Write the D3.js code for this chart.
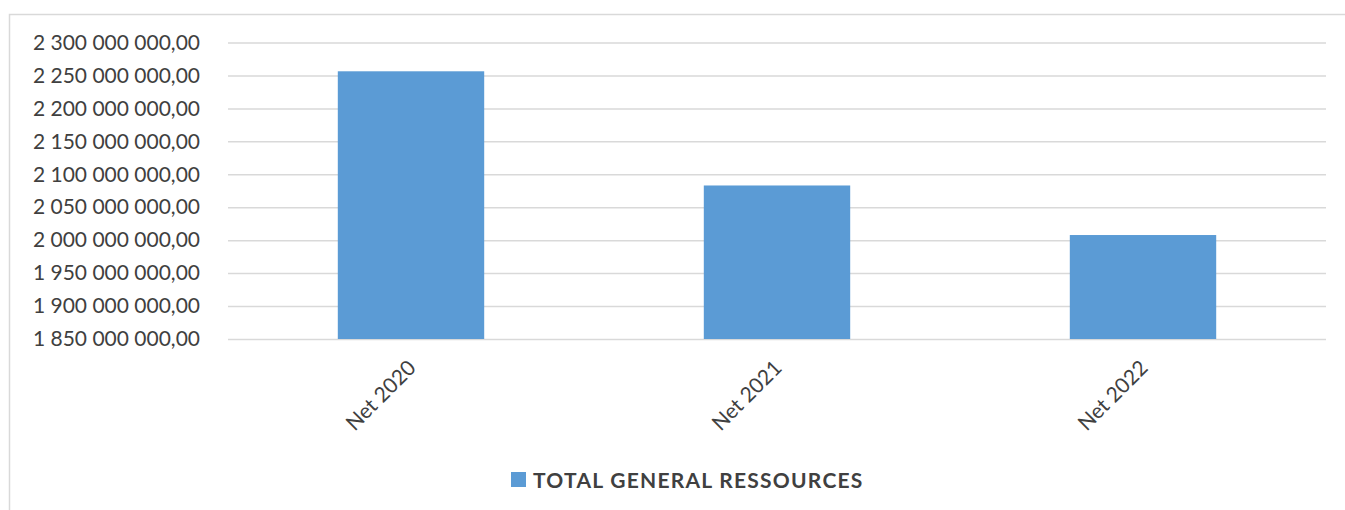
<!DOCTYPE html>
<html><head><meta charset="utf-8">
<script src="https://cdn.jsdelivr.net/npm/d3@7"></script>
<style>body{margin:0;background:#fff}svg{display:block}</style>
</head><body>
<svg id="c" width="1345" height="510"></svg>
<script>
const categories = ["Net 2020", "Net 2021", "Net 2022"];
const values = [2256300000, 2083000000, 2007800000];
const tickValues = [1850000000,1900000000,1950000000,2000000000,2050000000,2100000000,2150000000,2200000000,2250000000,2300000000];
const seriesName = "TOTAL GENERAL RESSOURCES";

const svg = d3.select("#c");
const font = "Lato, 'Open Sans', sans-serif";
svg.append("rect").attr("x",9.5).attr("y",14.5).attr("width",1400).attr("height",600)
  .attr("fill","#fff").attr("stroke","#d9d9d9").attr("stroke-width",1.5);

const x = d3.scaleBand().domain(categories).range([228,1326]).paddingInner(0.6).paddingOuter(0.3);
const y = d3.scaleLinear().domain([1850000000,2300000000]).range([339,42.5]);

const fmt = v => {
  const s = Math.round(v).toString().replace(/\B(?=(\d{3})+(?!\d))/g," ");
  return s + ",00";
};

const yAxis = d3.axisLeft(y).tickValues(tickValues).tickSize(-(1326-228)).tickPadding(28).tickFormat(fmt);
const gy = svg.append("g").attr("transform","translate(228,0)").call(yAxis);
gy.select(".domain").remove();
gy.selectAll(".tick line").attr("stroke","#d9d9d9").attr("stroke-width",1.5);
gy.selectAll(".tick text").attr("fill","#404040").style("font-family",font).style("font-size","21px");

svg.append("g").selectAll("rect").data(values).join("rect")
  .attr("x",(d,i)=>x(categories[i])).attr("width",x.bandwidth())
  .attr("y",d=>y(d)).attr("height",d=>y(1850000000)-y(d))
  .attr("fill","#5b9bd5");

const xAxis = d3.axisBottom(x).tickSize(0).tickPadding(0);
const gx = svg.append("g").attr("transform","translate(0,339)").call(xAxis);
gx.select(".domain").remove();
gx.selectAll(".tick text")
  .attr("fill","#404040").style("font-family",font).style("font-size","21px")
  .attr("text-anchor","end").attr("dy","0.35em")
  .attr("transform","translate(1,25) rotate(-45)");

const lg = svg.append("g");
lg.append("rect").attr("x",511).attr("y",472).attr("width",15).attr("height",15).attr("fill","#5b9bd5");
lg.append("text").attr("x",533).attr("y",480).attr("dy","0.36em")
  .attr("fill","#404040").style("font-family",font).style("font-size","21px").style("font-weight","bold")
  .style("letter-spacing","1.25px")
  .text(seriesName);
</script>
</body></html>
